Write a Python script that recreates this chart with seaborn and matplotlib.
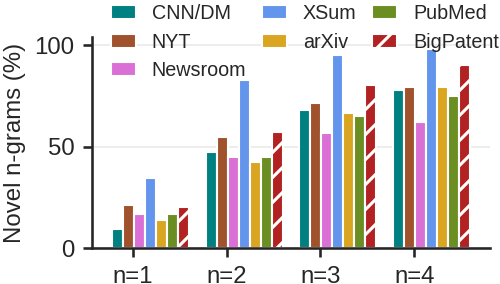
import pandas as pd
import numpy as np
import matplotlib.pyplot as plt
import seaborn as sns

categorias = ['n=1', 'n=2', 'n=3', 'n=4']
conjuntos = ['CNN/DM', 'NYT', 'Newsroom', 'XSum', 'arXiv', 'PubMed', 'BigPatent']
cnndm = [9.5, 47.5, 68.0, 77.7]
nyt = [21.3, 54.5, 71.4, 79.2]
newsroom = [17.0, 45.0, 56.5, 62.0]
xsum = [34.7, 82.7, 95.0, 98.0]
arxiv = [14.0, 42.6, 66.5, 79.2]
pubmed = [17.0, 45.0, 65.0, 74.8]
bigpatent = [20.3, 57.0, 80.2, 90.2]
colores = ['#008080', '#A0522D', '#DA70D6', '#6495ED', '#DAA520', '#6B8E23', '#B22222']

valores = [cnndm, nyt, newsroom, xsum, arxiv, pubmed, bigpatent]
df = pd.DataFrame({
    'ngram': categorias * len(conjuntos),
    'dataset': np.repeat(conjuntos, len(categorias)),
    'novel': np.concatenate(valores),
})

sns.set_theme(style="whitegrid", rc={
    'axes.edgecolor': '.15', 'axes.linewidth': 1.25,
    'grid.color': '#EAEAEA', 'grid.linewidth': 0.8,
    'xtick.bottom': True, 'ytick.left': True,
    'xtick.major.size': 4.3, 'ytick.major.size': 4.3,
    'xtick.major.width': 1.25, 'ytick.major.width': 1.25,
    'xtick.color': '.15', 'ytick.color': '.15',
    'text.color': '.15', 'axes.labelcolor': '.15',
    'hatch.color': 'white', 'hatch.linewidth': 1.5,
})
plt.rcParams['font.family'] = ['Liberation Sans', 'DejaVu Sans']

fig, ax = plt.subplots(figsize=(500 / 150, 284 / 150), dpi=150)
fig.subplots_adjust(left=0.184, right=0.98, bottom=0.126, top=0.87)

sns.barplot(data=df, x='ngram', y='novel', hue='dataset', palette=colores,
            saturation=1, width=0.82, edgecolor='white', linewidth=1, ax=ax)

# BigPatent con rayado
for barra in ax.containers[6]:
    barra.set_hatch('//')

handles, labels = ax.get_legend_handles_labels()
ax.get_legend().remove()
for h in handles:
    h.set_edgecolor('white')
handles[6].set_hatch('//')
fig.legend(handles, labels, ncol=3, loc='upper left', bbox_to_anchor=(0.222, 0.985),
           frameon=False, fontsize=9.5, handlelength=1.26, handleheight=0.7,
           labelspacing=0.48, columnspacing=0.8, handletextpad=0.8,
           borderpad=0, borderaxespad=0)

ax.set_ylim(0, 104)
ax.set_yticks([0, 50, 100])
ax.set_xlim(-0.62, 3.62)
ax.set_xticks([i - 0.186 for i in range(len(categorias))], categorias)
ax.tick_params(labelsize=11.5, pad=4)
ax.set_xlabel('')
ax.set_ylabel('Novel n-grams (%)', fontsize=11.5)
sns.despine(ax=ax)

fig.savefig('out.png', dpi=150)
